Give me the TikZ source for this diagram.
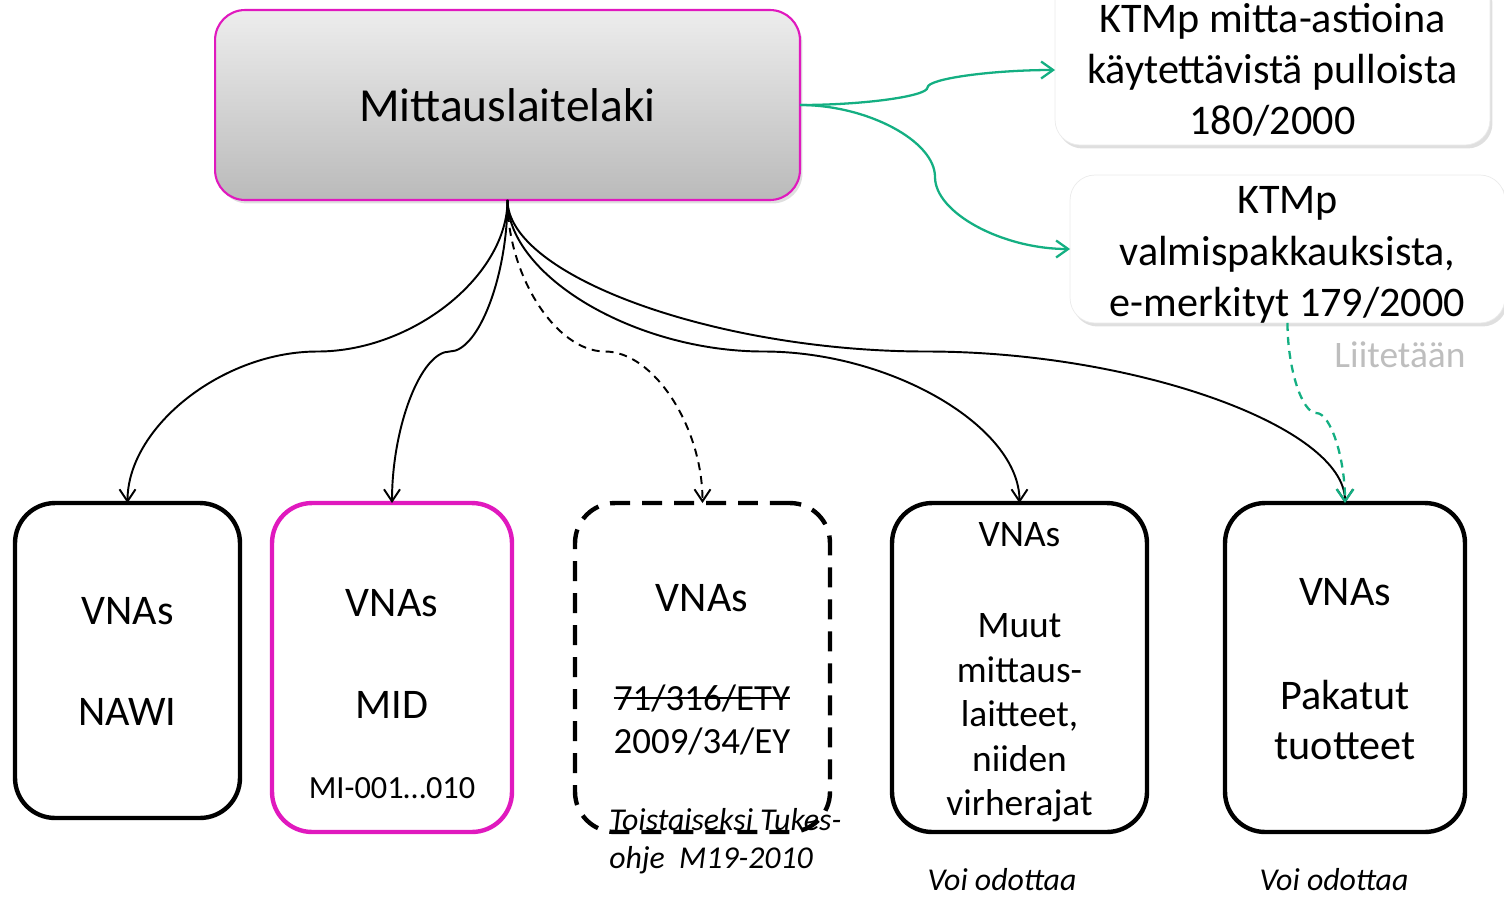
\documentclass[tikz,border=0pt]{standalone}
\usepackage{fontspec}
\setmainfont{Carlito}
\usetikzlibrary{arrows.meta,shadows,calc}

\definecolor{lakiviol}{RGB}{224,25,190}
\definecolor{ktmgreen}{RGB}{20,175,130}
\definecolor{liitgray}{RGB}{190,190,190}

\begin{document}
\begin{tikzpicture}[x=0.02cm,y=0.02cm,
    lakbox/.style={draw=lakiviol,line width=1.2pt,rounded corners=0.6cm,
      top color=black!7,bottom color=black!27,minimum width=11.7cm,minimum height=3.8cm,
      inner sep=0pt,outer sep=0pt,font=\fontsize{27}{32}\selectfont,
      drop shadow={shadow xshift=0.05cm,shadow yshift=-0.07cm,opacity=0.25}},
    ktmbox/.style={draw=black!8,fill=white,rounded corners=0.5cm,minimum width=8.7cm,
      inner sep=0pt,outer sep=0pt,
      drop shadow={shadow xshift=0.05cm,shadow yshift=-0.07cm,opacity=0.25}},
    vnabox/.style={draw,line width=2.5pt,rounded corners=0.8cm,minimum height=6.58cm,
      inner sep=0pt,outer sep=0pt},
    ktmtxt/.style={align=center,inner sep=0pt,font=\fontsize{24}{29.2}\selectfont},
    vtxt/.style={align=center,inner sep=0pt,font=\fontsize{24}{29}\selectfont},
    muuttxt/.style={align=center,inner sep=0pt,font=\fontsize{21.3}{25.3}\selectfont},
    numtxt/.style={align=center,inner sep=0pt,font=\fontsize{21}{25}\selectfont},
    smalltxt/.style={align=center,inner sep=0pt,font=\fontsize{18.4}{22}\selectfont},
    notetxt/.style={align=left,inner sep=0pt,font=\fontsize{18.1}{21.6}\selectfont\itshape},
    conn/.style={line width=1.1pt,-{Straight Barb[length=0.24cm,width=0.32cm]}},
    gconn/.style={ktmgreen,line width=1.3pt,-{Straight Barb[length=0.24cm,width=0.34cm]}},
    dashlink/.style={dash pattern=on 0.16cm off 0.12cm}]
  \useasboundingbox (0,0) rectangle (1504,-896);

  % Pääsolmu
  \node[lakbox] (lak) at (507.5,-105) {Mittauslaitelaki};

  % Asetukset
  \node[ktmbox,minimum height=3.4cm] (ktm1) at (1272.5,-60) {};
  \node[ktmtxt] (ktm1t) at (1272.5,-70) {KTMp mitta-astioina\\käytettävistä pulloista\\180/2000};
  \node[ktmbox,minimum height=2.96cm] (ktm2) at (1287.5,-249) {};
  \node[ktmtxt] (ktm2t) at (1287.5,-255) {KTMp\\valmispakkauksista,\\e-merkityt 179/2000};
  \node[muuttxt,text=liitgray] (liit) at (1400,-355) {Liitetään};

  % Alalaatikot
  \node[vnabox,minimum width=4.5cm,minimum height=6.3cm] (nawi) at (127.5,-660.5) {};
  \node[vnabox,draw=lakiviol,minimum width=4.8cm] (mid) at (392,-667.5) {};
  \node[vnabox,minimum width=5.1cm,dash pattern=on 0.4cm off 0.24cm] (ety) at (702.5,-667.5) {};
  \node[vnabox,minimum width=5.1cm] (muut) at (1019.5,-667.5) {};
  \node[vnabox,minimum width=4.8cm] (pak) at (1345,-667.5) {};

  \node[vtxt] (nawiA) at (127.5,-611) {VNAs};
  \node[vtxt] (nawiB) at (127.5,-712) {NAWI};
  \node[vtxt] (midA) at (392,-603) {VNAs};
  \node[vtxt] (midB) at (392,-705) {MID};
  \node[smalltxt] (midC) at (392,-788) {MI-001…010};
  \node[vtxt] (etyA) at (702,-598) {VNAs};
  \node[numtxt] (etyB) at (702,-698) {71/316/ETY};
  \draw[line width=1.1pt] (etyB.west) -- (etyB.east);
  \node[numtxt] (etyC) at (702,-741) {2009/34/EY};
  \node[notetxt,anchor=west] (etyD) at (609,-841) {Toistaiseksi Tukes-\\ohje\ \ M19-2010};
  \node[muuttxt] (muutA) at (1019.5,-535) {VNAs};
  \node[muuttxt] (muutB) at (1019.5,-718) {Muut\\mittaus-\\laitteet,\\niiden\\virherajat};
  \node[vtxt] (pakA) at (1345,-592.5) {VNAs};
  \node[vtxt] (pakB) at (1345,-720) {Pakatut\\tuotteet};
  \node[notetxt] (odotA) at (1002,-880) {Voi odottaa};
  \node[notetxt] (odotB) at (1334,-880) {Voi odottaa};

  % Yhteydet alas
  \draw[conn] (lak.south) .. controls +(0,-76) and +(95,0) .. (317.5,-351.5)
    .. controls +(-95,0) and +(0,76) .. (nawi.north);
  \draw[conn] (lak.south) .. controls +(0,-76) and +(28.9,0) .. (449.75,-351.5)
    .. controls +(-28.9,0) and +(0,76) .. (mid.north);
  \draw[conn,dashlink] (lak.south) .. controls +(0,-76) and +(-48.75,0) .. (605,-351.5)
    .. controls +(48.75,0) and +(0,76) .. (ety.north);
  \draw[conn] (lak.south) .. controls +(0,-76) and +(-128,0) .. (763.5,-351.5)
    .. controls +(128,0) and +(0,76) .. (muut.north);
  \draw[conn] (lak.south) .. controls +(0,-76) and +(-209.4,0) .. (926.25,-351.5)
    .. controls +(209.4,0) and +(0,76) .. (pak.north);

  % Vihreät yhteydet
  \draw[gconn] (lak.east) .. controls +(63.75,0) and +(0,-8.75) .. (927.5,-87.5)
    .. controls +(0,8.75) and +(-63.75,0) .. ($(ktm1.west)+(0,-10)$);
  \draw[gconn] (lak.east) .. controls +(67.5,0) and +(0,36) .. (935,-177)
    .. controls +(0,-36) and +(-67.5,0) .. (ktm2.west);
  \draw[gconn,dashlink] (ktm2.south) .. controls +(0,-45) and +(-14.4,0) .. (1316.25,-413)
    .. controls +(14.4,0) and +(0,45) .. (pak.north);
\end{tikzpicture}
\end{document}
